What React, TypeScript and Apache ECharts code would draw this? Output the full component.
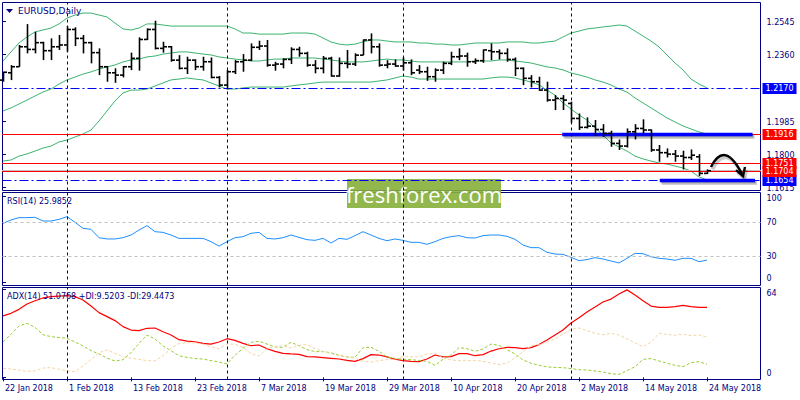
import React, { useEffect, useRef } from "react";
import * as echarts from "echarts";

// ---------- data ----------
const tickBars = [0, 8, 16, 24, 32, 40, 48, 56, 64, 72, 80, 88];
const tickLabels = [
  "22 Jan 2018", "1 Feb 2018", "13 Feb 2018", "23 Feb 2018", "7 Mar 2018", "19 Mar 2018",
  "29 Mar 2018", "10 Apr 2018", "20 Apr 2018", "2 May 2018", "14 May 2018", "24 May 2018",
];
const monthStarts = [8, 28, 50, 71];

const opens = [
  1.2216, 1.2257, 1.2291, 1.2403, 1.2388, 1.2426, 1.2381, 1.2403, 1.2413, 1.2500,
  1.2450, 1.2426, 1.2370, 1.2291, 1.2257, 1.2244, 1.2291, 1.2338, 1.2444, 1.2500,
  1.2394, 1.2403, 1.2328, 1.2282, 1.2328, 1.2291, 1.2319, 1.2231, 1.2188, 1.2263,
  1.2319, 1.2328, 1.2400, 1.2407, 1.2300, 1.2306, 1.2332, 1.2388, 1.2366, 1.2300,
  1.2282, 1.2338, 1.2239, 1.2310, 1.2306, 1.2356, 1.2441, 1.2403, 1.2300, 1.2306,
  1.2295, 1.2313, 1.2272, 1.2263, 1.2235, 1.2272, 1.2310, 1.2347, 1.2351, 1.2319,
  1.2325, 1.2381, 1.2375, 1.2366, 1.2332, 1.2282, 1.2226, 1.2207, 1.2160, 1.2104,
  1.2113, 1.2085, 1.2001, 1.1951, 1.1958, 1.1939, 1.1917, 1.1861, 1.1846, 1.1926,
  1.1945, 1.1936, 1.1824, 1.1809, 1.1801, 1.1790, 1.1782, 1.1786, 1.1693,
];
const highs = [
  1.2263, 1.2300, 1.2413, 1.2530, 1.2487, 1.2431, 1.2450, 1.2469, 1.2519, 1.2512,
  1.2469, 1.2431, 1.2394, 1.2295, 1.2282, 1.2295, 1.2370, 1.2456, 1.2506, 1.2549,
  1.2431, 1.2407, 1.2356, 1.2347, 1.2332, 1.2347, 1.2343, 1.2239, 1.2272, 1.2328,
  1.2362, 1.2422, 1.2437, 1.2441, 1.2319, 1.2338, 1.2400, 1.2403, 1.2375, 1.2328,
  1.2351, 1.2347, 1.2343, 1.2385, 1.2366, 1.2444, 1.2478, 1.2422, 1.2328, 1.2332,
  1.2343, 1.2332, 1.2300, 1.2291, 1.2282, 1.2319, 1.2375, 1.2394, 1.2370, 1.2338,
  1.2388, 1.2422, 1.2388, 1.2394, 1.2343, 1.2287, 1.2244, 1.2235, 1.2207, 1.2132,
  1.2132, 1.2095, 1.2029, 1.2007, 1.1992, 1.1969, 1.1932, 1.1883, 1.1945, 1.1969,
  1.1996, 1.1939, 1.1852, 1.1833, 1.1824, 1.1820, 1.1827, 1.1801, 1.1715,
];
const lows = [
  1.2207, 1.2216, 1.2291, 1.2366, 1.2366, 1.2328, 1.2328, 1.2385, 1.2375, 1.2407,
  1.2366, 1.2310, 1.2244, 1.2207, 1.2201, 1.2231, 1.2272, 1.2269, 1.2441, 1.2388,
  1.2370, 1.2319, 1.2276, 1.2250, 1.2272, 1.2269, 1.2226, 1.2175, 1.2164, 1.2250,
  1.2263, 1.2323, 1.2385, 1.2291, 1.2269, 1.2282, 1.2306, 1.2347, 1.2291, 1.2254,
  1.2254, 1.2235, 1.2235, 1.2282, 1.2295, 1.2356, 1.2366, 1.2291, 1.2282, 1.2291,
  1.2269, 1.2244, 1.2250, 1.2212, 1.2207, 1.2250, 1.2300, 1.2328, 1.2291, 1.2306,
  1.2313, 1.2328, 1.2332, 1.2319, 1.2239, 1.2188, 1.2175, 1.2156, 1.2095, 1.2048,
  1.2048, 1.1977, 1.1936, 1.1945, 1.1902, 1.1898, 1.1842, 1.1824, 1.1838, 1.1883,
  1.1917, 1.1814, 1.1758, 1.1782, 1.1758, 1.1715, 1.1768, 1.1678, 1.1689,
];
const closes = [
  1.2260, 1.2291, 1.2403, 1.2388, 1.2426, 1.2381, 1.2403, 1.2413, 1.2500, 1.2450,
  1.2426, 1.2370, 1.2291, 1.2257, 1.2244, 1.2291, 1.2338, 1.2444, 1.2500, 1.2394,
  1.2403, 1.2328, 1.2282, 1.2328, 1.2291, 1.2319, 1.2231, 1.2188, 1.2263, 1.2319,
  1.2328, 1.2400, 1.2407, 1.2300, 1.2306, 1.2332, 1.2388, 1.2366, 1.2300, 1.2282,
  1.2338, 1.2239, 1.2310, 1.2306, 1.2356, 1.2441, 1.2403, 1.2300, 1.2306, 1.2295,
  1.2313, 1.2257, 1.2263, 1.2235, 1.2272, 1.2310, 1.2347, 1.2351, 1.2319, 1.2325,
  1.2385, 1.2375, 1.2366, 1.2332, 1.2282, 1.2226, 1.2207, 1.2160, 1.2104, 1.2113,
  1.2104, 1.2001, 1.1951, 1.1958, 1.1939, 1.1917, 1.1861, 1.1846, 1.1926, 1.1945,
  1.1936, 1.1824, 1.1809, 1.1801, 1.1790, 1.1782, 1.1795, 1.1693, 1.1708,
];

const bbUpper = [
  1.2323, 1.2374, 1.2424, 1.2458, 1.2486, 1.2497, 1.2508, 1.2531, 1.2564, 1.2581,
  1.2592, 1.2592, 1.2581, 1.2570, 1.2536, 1.2503, 1.2497, 1.2508, 1.2531, 1.2531,
  1.2525, 1.2519, 1.2519, 1.2519, 1.2519, 1.2519, 1.2519, 1.2519, 1.2519, 1.2503,
  1.2480, 1.2480, 1.2474, 1.2474, 1.2474, 1.2474, 1.2480, 1.2480, 1.2480, 1.2474,
  1.2452, 1.2430, 1.2418, 1.2413, 1.2418, 1.2430, 1.2441, 1.2441, 1.2435, 1.2430,
  1.2430, 1.2430, 1.2424, 1.2424, 1.2418, 1.2418, 1.2413, 1.2413, 1.2418, 1.2424,
  1.2424, 1.2424, 1.2424, 1.2430, 1.2430, 1.2430, 1.2424, 1.2424, 1.2430, 1.2435,
  1.2458, 1.2480, 1.2491, 1.2503, 1.2508, 1.2514, 1.2519, 1.2525, 1.2519, 1.2491,
  1.2463, 1.2435, 1.2402, 1.2357, 1.2312, 1.2273, 1.2222, 1.2194, 1.2172,
];
const bbMiddle = [
  1.2043, 1.2060, 1.2082, 1.2104, 1.2127, 1.2149, 1.2166, 1.2194, 1.2217, 1.2233,
  1.2250, 1.2262, 1.2278, 1.2290, 1.2301, 1.2318, 1.2329, 1.2334, 1.2346, 1.2351,
  1.2362, 1.2368, 1.2374, 1.2374, 1.2368, 1.2362, 1.2357, 1.2346, 1.2340, 1.2334,
  1.2329, 1.2323, 1.2323, 1.2329, 1.2334, 1.2334, 1.2340, 1.2340, 1.2340, 1.2340,
  1.2334, 1.2329, 1.2323, 1.2318, 1.2318, 1.2318, 1.2323, 1.2329, 1.2334, 1.2329,
  1.2329, 1.2323, 1.2318, 1.2318, 1.2318, 1.2318, 1.2318, 1.2318, 1.2318, 1.2323,
  1.2323, 1.2323, 1.2329, 1.2329, 1.2323, 1.2318, 1.2312, 1.2301, 1.2290, 1.2284,
  1.2273, 1.2256, 1.2245, 1.2233, 1.2217, 1.2205, 1.2189, 1.2166, 1.2149, 1.2116,
  1.2088, 1.2060, 1.2032, 1.2004, 1.1981, 1.1959, 1.1942, 1.1925, 1.1914,
];
const bbLower = [
  1.1762, 1.1768, 1.1790, 1.1802, 1.1818, 1.1835, 1.1846, 1.1869, 1.1880, 1.1897,
  1.1914, 1.1936, 1.1987, 1.2043, 1.2099, 1.2144, 1.2160, 1.2160, 1.2166, 1.2183,
  1.2200, 1.2217, 1.2222, 1.2228, 1.2222, 1.2217, 1.2200, 1.2183, 1.2166, 1.2166,
  1.2172, 1.2177, 1.2177, 1.2177, 1.2177, 1.2177, 1.2183, 1.2189, 1.2194, 1.2200,
  1.2205, 1.2205, 1.2205, 1.2205, 1.2205, 1.2205, 1.2205, 1.2211, 1.2217, 1.2228,
  1.2239, 1.2233, 1.2222, 1.2222, 1.2222, 1.2222, 1.2222, 1.2222, 1.2222, 1.2222,
  1.2222, 1.2228, 1.2233, 1.2233, 1.2228, 1.2217, 1.2205, 1.2189, 1.2160, 1.2132,
  1.2088, 1.2054, 1.2020, 1.1992, 1.1947, 1.1908, 1.1863, 1.1841, 1.1818, 1.1790,
  1.1774, 1.1762, 1.1751, 1.1745, 1.1734, 1.1723, 1.1706, 1.1673, 1.1656,
];

const rsi = [
  68.8, 72.7, 75.4, 75.4, 75.8, 71.5, 71.5, 73.4, 76.6, 70.0,
  63.0, 61.8, 52.1, 50.6, 50.6, 52.1, 55.2, 61.0, 66.1, 59.1,
  58.3, 55.2, 51.3, 51.3, 51.3, 51.3, 47.5, 42.4, 47.5, 52.1,
  53.3, 57.2, 58.3, 51.3, 50.6, 52.1, 55.2, 52.5, 49.8, 49.0,
  51.3, 45.9, 51.3, 50.2, 54.5, 59.1, 55.2, 51.3, 48.6, 50.6,
  49.0, 46.7, 46.7, 44.4, 47.5, 51.3, 53.3, 54.5, 52.1, 51.7,
  54.5, 55.2, 55.2, 53.7, 50.2, 43.6, 40.5, 40.5, 35.1, 33.1,
  32.7, 29.3, 25.4, 26.6, 28.9, 27.3, 25.0, 22.7, 28.1, 33.9,
  33.5, 30.0, 28.1, 27.3, 25.8, 28.1, 28.1, 24.2, 25.99,
];
const adx = [
  44.8, 46.7, 49.6, 53.5, 55.9, 57.9, 58.9, 59.3, 59.6, 58.9,
  56.4, 52.0, 47.2, 44.3, 41.4, 37.0, 34.5, 34.1, 35.8, 36.0,
  33.3, 30.9, 27.5, 26.5, 26.0, 24.8, 24.3, 25.8, 28.2, 27.0,
  24.8, 23.1, 23.6, 20.9, 19.0, 17.5, 17.1, 16.8, 15.1, 14.9,
  14.4, 13.9, 13.4, 12.4, 11.7, 13.7, 16.6, 16.3, 14.9, 13.2,
  12.2, 11.7, 11.5, 13.4, 16.3, 14.9, 15.1, 17.3, 17.3, 15.8,
  16.6, 19.2, 20.9, 21.9, 21.7, 20.9, 21.7, 23.9, 27.3, 30.9,
  34.5, 39.7, 43.5, 47.7, 51.3, 55.0, 57.1, 60.8, 63.8, 60.1,
  55.9, 52.0, 51.1, 51.1, 51.6, 52.5, 51.6, 51.1, 51.08,
];
const plusDI = [
  26.0, 31.4, 37.5, 39.4, 36.5, 31.1, 29.7, 29.0, 28.5, 25.8,
  22.9, 19.5, 17.1, 14.1, 11.9, 12.9, 18.0, 24.8, 30.9, 28.0,
  22.9, 19.5, 15.8, 14.6, 13.7, 13.4, 12.2, 11.2, 9.8, 16.1,
  21.2, 25.6, 26.3, 24.3, 22.2, 21.9, 25.6, 23.1, 20.2, 18.8,
  18.8, 18.0, 16.1, 14.9, 14.6, 21.7, 21.9, 19.0, 14.9, 13.9,
  13.2, 12.9, 12.4, 11.7, 8.8, 13.2, 16.3, 21.7, 20.9, 19.0,
  20.7, 24.3, 23.4, 20.2, 17.1, 12.7, 10.3, 8.8, 7.6, 7.3,
  7.1, 6.4, 5.6, 5.4, 4.7, 3.9, 2.7, 2.2, 4.9, 7.8,
  13.2, 13.7, 12.0, 10.3, 8.8, 7.8, 10.7, 11.5, 9.52,
];
const minusDI = [
  6.6, 6.1, 5.4, 4.4, 4.7, 6.8, 7.1, 5.9, 4.7, 4.2,
  8.3, 12.9, 18.0, 20.0, 17.5, 15.1, 13.9, 13.2, 12.2, 12.0,
  15.8, 21.2, 24.6, 25.3, 25.1, 24.3, 22.4, 20.9, 24.3, 24.1,
  21.9, 17.3, 15.6, 20.9, 22.6, 22.9, 21.4, 23.4, 23.9, 20.9,
  19.0, 17.3, 15.8, 14.9, 14.1, 11.7, 11.2, 12.2, 12.9, 13.2,
  15.1, 15.1, 14.9, 17.1, 17.5, 14.4, 12.7, 12.2, 12.2, 12.4,
  11.7, 10.5, 9.3, 10.3, 14.4, 18.8, 23.1, 23.9, 25.8, 28.0,
  31.6, 35.0, 36.0, 34.1, 32.1, 31.1, 32.1, 30.9, 28.2, 25.1,
  22.4, 25.6, 32.1, 31.4, 30.7, 31.6, 30.4, 30.9, 29.45,
];

const priceTicks = [1.1615, 1.18, 1.1985, 1.236, 1.2545];
const rsiTicks = [0, 30, 70, 100];
const rsiLevels = [70, 30];
const adxTicks = [0, 64];
const blueLevels = [1.217, 1.1654];
const redLevels = [1.1916, 1.1751, 1.1704];
const bidLevel = 1.1712;
// [start bar, end bar, price]
const zoneSegments = [
  [69.9, 93.7, 1.1916],
  [82.1, 94.0, 1.1654],
];
// arrow: start, control, end (bar index, price)
const arrowStart = [88.5, 1.1729];
const arrowCtrl = [90.25, 1.1885];
const arrowEnd = [92.5, 1.1678];

// ---------- style ----------
const NAVY = "#000080";
const FONT = "DejaVu Sans";
const X_MIN = -0.0625;
const X_MAX = 94.6875;

const idx = (arr: number[]) => arr.map((v, i) => [i, v]);

// kinds: 0 bid line, 1 red level, 2 blue level, 3 thick zone segment
const levelItems = [
  [X_MIN, bidLevel, X_MAX, 0],
  ...blueLevels.map((v) => [X_MIN, v, X_MAX, 2]),
  ...redLevels.map((v) => [X_MIN, v, X_MAX, 1]),
  ...zoneSegments.map(([a, b, p]) => [a, p, b, 3]),
];

export default function App() {
  const ref = useRef<HTMLDivElement>(null);

  useEffect(() => {
    if (!ref.current) return;
    const chart = echarts.init(ref.current, undefined, { renderer: "svg" });

    const xAxisBase = (gridIndex: number, showLabels: boolean) => ({
      type: "value",
      gridIndex,
      min: X_MIN,
      max: X_MAX,
      splitLine: { show: false },
      axisLine: { show: false },
      axisTick: showLabels
        ? { show: true, customValues: tickBars, length: 4, lineStyle: { color: NAVY } }
        : { show: false },
      axisLabel: showLabels
        ? {
            show: true,
            customValues: tickBars,
            formatter: (v: number) => {
              const k = tickBars.indexOf(Math.round(v));
              return k >= 0 ? tickLabels[k] : "";
            },
            align: "left",
            padding: [0, 0, 0, 2],
            color: NAVY,
            fontSize: 8,
            fontFamily: FONT,
            margin: 5,
          }
        : { show: false },
    });

    const richFor = (shiftUp: number, shiftDown: number) => ({
      color: NAVY,
      fontSize: 8,
      fontFamily: FONT,
      padding: [shiftDown * 2, 0, shiftUp * 2, 0],
    });

    const yAxisBase = (
      gridIndex: number,
      min: number,
      max: number,
      ticks: number[],
      fmt: (v: number) => string,
      padTop: number
    ) => ({
      type: "value",
      gridIndex,
      position: "right",
      min,
      max,
      scale: true,
      splitLine: { show: false },
      axisLine: { show: false },
      axisTick: { show: true, customValues: ticks, length: 3, lineStyle: { color: NAVY } },
      axisLabel: {
        show: true,
        customValues: ticks,
        formatter: fmt,
        color: NAVY,
        fontSize: 8,
        fontFamily: FONT,
        margin: 6,
        padding: [padTop, 0, 0, 0],
        rich: { up: richFor(4, 0), dn: richFor(0, 4), dn2: richFor(0, 2) },
      },
    });

    const sepMarkLine = {
      symbol: ["none", "none"],
      silent: true,
      precision: 4,
      label: { show: false },
      lineStyle: { color: NAVY, type: [3, 3], width: 1 },
      data: monthStarts.map((m) => ({ xAxis: m })),
    };

    const option: any = {
      animation: false,
      backgroundColor: "#ffffff",
      grid: [
        { left: 2.5, top: 2.5, width: 758, height: 188, show: true, borderColor: NAVY, borderWidth: 1 },
        { left: 2.5, top: 192.5, width: 758, height: 93, show: true, borderColor: NAVY, borderWidth: 1 },
        { left: 2.5, top: 287.5, width: 758, height: 92, show: true, borderColor: NAVY, borderWidth: 1 },
      ],
      xAxis: [xAxisBase(0, false), xAxisBase(1, false), xAxisBase(2, true)],
      yAxis: [
        yAxisBase(0, 1.15969, 1.26512, priceTicks, (v) => v.toFixed(4), 2),
        yAxisBase(1, -3.49, 104.65, rsiTicks, (v) => {
          const r = Math.round(v);
          if (r === 0) return "{up|0}";
          if (r === 100) return "{dn2|100}";
          return String(r);
        }, 0),
        yAxisBase(2, -1.54, 65.53, adxTicks, (v) => {
          const r = Math.round(v);
          if (r === 0) return "{up|0}";
          return "{dn|" + r + "}";
        }, 0),
      ],
      series: [
        {
          name: "BB Upper",
          type: "line",
          xAxisIndex: 0,
          yAxisIndex: 0,
          data: idx(bbUpper),
          showSymbol: false,
          lineStyle: { color: "#3cb371", width: 1 },
          z: 2,
          markLine: sepMarkLine,
        },
        {
          name: "BB Middle",
          type: "line",
          xAxisIndex: 0,
          yAxisIndex: 0,
          data: idx(bbMiddle),
          showSymbol: false,
          lineStyle: { color: "#3cb371", width: 1 },
          z: 2,
        },
        {
          name: "BB Lower",
          type: "line",
          xAxisIndex: 0,
          yAxisIndex: 0,
          data: idx(bbLower),
          showSymbol: false,
          lineStyle: { color: "#3cb371", width: 1 },
          z: 2,
        },
        {
          name: "Levels",
          type: "custom",
          xAxisIndex: 0,
          yAxisIndex: 0,
          z: 3,
          clip: false,
          data: levelItems,
          encode: { x: [0, 2], y: 1 },
          renderItem: (params: any, api: any) => {
            const a = api.value(0);
            const p = api.value(1);
            const b = api.value(2);
            const kind = api.value(3);
            const s = api.coord([a, p]);
            const e = api.coord([b, p]);
            const yi = Math.round(s[1]);
            const y = yi + 0.5;
            if (kind === 3) {
              return {
                type: "group",
                children: [
                  {
                    type: "line",
                    shape: { x1: s[0] + 2, y1: y + 2.5, x2: e[0] + 2, y2: y + 2.5 },
                    style: { stroke: "rgba(0,0,0,0.18)", lineWidth: 4 },
                  },
                  {
                    type: "line",
                    shape: { x1: s[0] + 1, y1: y + 1.5, x2: e[0] + 1, y2: y + 1.5 },
                    style: { stroke: "rgba(0,0,0,0.22)", lineWidth: 3 },
                  },
                  {
                    type: "line",
                    shape: { x1: s[0], y1: y, x2: e[0], y2: y },
                    style: { stroke: "#0000ff", lineWidth: 3.5 },
                  },
                ],
              };
            }
            const color = kind === 0 ? "#c0c0c0" : kind === 1 ? "#ff0000" : "#0000ff";
            const children: any[] = [];
            if (kind === 2) {
              children.push({
                type: "line",
                shape: { x1: s[0], y1: y, x2: e[0], y2: y },
                style: { stroke: color, lineWidth: 1, lineDash: [9, 3, 2, 3] },
              });
            } else {
              children.push({
                type: "rect",
                shape: { x: s[0] - 0.5, y: yi, width: e[0] - s[0] + 1, height: 1 },
                style: { fill: color },
              });
            }
            if (kind > 0) {
              children.push({
                type: "text",
                x: e[0] + 2,
                y: y,
                style: {
                  text: p.toFixed(4),
                  fill: "#ffffff",
                  backgroundColor: color,
                  padding: [2, 3, 1, 3],
                  font: `8px '${FONT}'`,
                  align: "left",
                  verticalAlign: "middle",
                },
              });
            }
            return { type: "group", children };
          },
        },
        {
          name: "EURUSD",
          type: "custom",
          xAxisIndex: 0,
          yAxisIndex: 0,
          z: 4,
          data: opens.map((o, i) => [i, o, highs[i], lows[i], closes[i]]),
          encode: { x: 0, y: [1, 2, 3, 4] },
          renderItem: (params: any, api: any) => {
            const i = api.value(0);
            const o = api.coord([i, api.value(1)]);
            const h = api.coord([i, api.value(2)]);
            const l = api.coord([i, api.value(3)]);
            const c = api.coord([i, api.value(4)]);
            const x = Math.round(o[0]) + 0.5;
            const st = { stroke: "#000000", lineWidth: 1.6 };
            return {
              type: "group",
              children: [
                { type: "line", shape: { x1: x, y1: h[1], x2: x, y2: l[1] }, style: st },
                { type: "line", shape: { x1: x - 3.5, y1: o[1], x2: x, y2: o[1] }, style: st },
                { type: "line", shape: { x1: x, y1: c[1], x2: x + 3.5, y2: c[1] }, style: st },
              ],
            };
          },
        },
        {
          name: "Arrow",
          type: "custom",
          xAxisIndex: 0,
          yAxisIndex: 0,
          z: 5,
          clip: false,
          data: [[arrowStart[0], arrowStart[1]]],
          renderItem: (params: any, api: any) => {
            const s = api.coord(arrowStart);
            const c = api.coord(arrowCtrl);
            const e = api.coord(arrowEnd);
            const mk = (dx: number, dy: number, stroke: string, w: number) => [
              {
                type: "bezierCurve",
                shape: { x1: s[0] + dx, y1: s[1] + dy, cpx1: c[0] + dx, cpy1: c[1] + dy, x2: e[0] + dx, y2: e[1] + dy },
                style: { stroke, fill: "none", lineWidth: w },
              },
              {
                type: "polyline",
                shape: {
                  points: [[e[0] - 7 + dx, e[1] - 6 + dy], [e[0] + dx, e[1] + dy], [e[0] + 2 + dx, e[1] - 9 + dy]],
                },
                style: { stroke, fill: "none", lineWidth: w },
              },
            ];
            return {
              type: "group",
              children: [...mk(1.5, 2.5, "rgba(0,0,0,0.2)", 3.5), ...mk(0, 0, "#000000", 2.4)],
            };
          },
        },
        {
          name: "RSI",
          type: "line",
          xAxisIndex: 1,
          yAxisIndex: 1,
          data: idx(rsi),
          showSymbol: false,
          lineStyle: { color: "#1e90ff", width: 1 },
          markLine: {
            symbol: ["none", "none"],
            silent: true,
            precision: 4,
            label: { show: false },
            data: [
              ...rsiLevels.map((v) => ({ yAxis: v, lineStyle: { color: "#c0c0c0", type: [3, 3], width: 1 } })),
              ...monthStarts.map((m) => ({ xAxis: m, lineStyle: { color: NAVY, type: [3, 3], width: 1 } })),
            ],
          },
        },
        {
          name: "ADX",
          type: "line",
          xAxisIndex: 2,
          yAxisIndex: 2,
          data: idx(adx),
          showSymbol: false,
          z: 3,
          lineStyle: { color: "#ff0000", width: 1.2 },
          markLine: sepMarkLine,
        },
        {
          name: "+DI",
          type: "line",
          xAxisIndex: 2,
          yAxisIndex: 2,
          data: idx(plusDI),
          showSymbol: false,
          lineStyle: { color: "#9acd32", width: 1, type: [3, 2] },
        },
        {
          name: "-DI",
          type: "line",
          xAxisIndex: 2,
          yAxisIndex: 2,
          data: idx(minusDI),
          showSymbol: false,
          lineStyle: { color: "#f5d6a8", width: 1, type: [3, 2] },
        },
      ],
      graphic: [
        {
          type: "polygon",
          shape: { points: [[6, 9], [13, 9], [9.5, 13]] },
          style: { fill: NAVY },
          z: 10,
        },
        {
          type: "text",
          x: 18,
          y: 11,
          z: 10,
          style: { text: "EURUSD,Daily", fill: NAVY, font: `9px '${FONT}'`, textVerticalAlign: "middle" },
        },
        {
          type: "text",
          x: 7,
          y: 201,
          z: 10,
          style: { text: "RSI(14) 25.9852", fill: NAVY, font: `8px '${FONT}'`, textVerticalAlign: "middle" },
        },
        {
          type: "text",
          x: 7,
          y: 296,
          z: 10,
          style: {
            text: "ADX(14) 51.0768 +DI:9.5203 -DI:29.4473",
            fill: NAVY,
            font: `8px '${FONT}'`,
            textVerticalAlign: "middle",
          },
        },
        {
          type: "group",
          z: 20,
          children: [
            {
              type: "rect",
              shape: { x: 347, y: 179, width: 154, height: 29 },
              style: { fill: "rgba(134,176,58,0.9)" },
            },
            {
              type: "text",
              x: 424,
              y: 194,
              style: {
                text: "freshforex.com",
                fill: "#ffffff",
                font: "22px 'Open Sans'",
                textAlign: "center",
                textVerticalAlign: "middle",
              },
            },
          ],
        },
      ],
    };

    chart.setOption(option);
    return () => chart.dispose();
  }, []);

  return (
    <div
      ref={ref}
      style={{ position: "fixed", left: 0, top: 0, width: 800, height: 400, background: "#ffffff" }}
    />
  );
}
